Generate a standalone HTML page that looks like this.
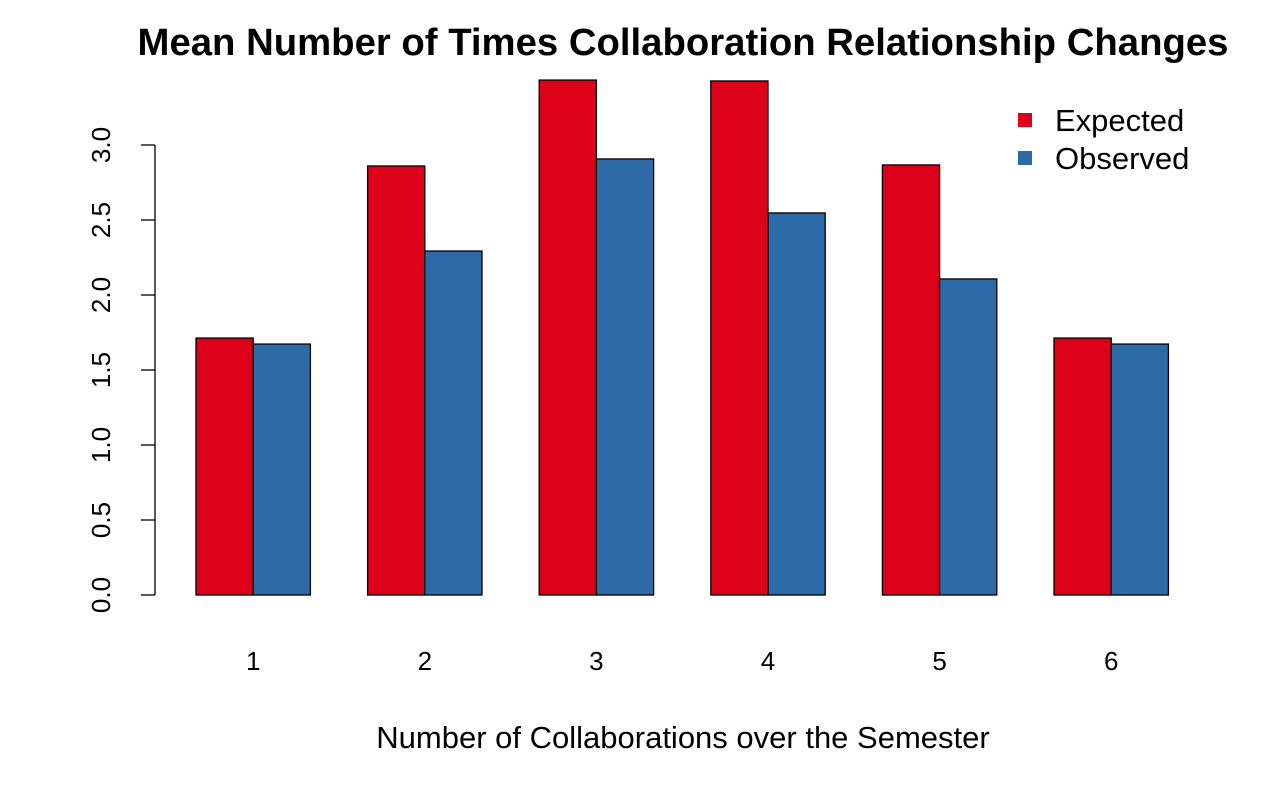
<!DOCTYPE html>
<html><head><meta charset="utf-8"><style>
html,body{margin:0;padding:0;background:#fff;}
svg text{font-family:"Liberation Sans",Arial,sans-serif;fill:#000;}
</style></head><body>
<svg id="chart" width="1288" height="796" viewBox="0 0 1288 796" xmlns="http://www.w3.org/2000/svg">
<text x="683" y="55" font-size="38.3" font-weight="bold" text-anchor="middle">Mean Number of Times Collaboration Relationship Changes</text>
<text x="683" y="748" font-size="31" text-anchor="middle">Number of Collaborations over the Semester</text>
<g id="bars"></g>
<g id="yaxis"></g>
<g id="xlabels"></g>
<g>
<rect x="1018" y="113" width="14" height="14" fill="#DC0018"/>
<text x="1055" y="131" font-size="31">Expected</text>
<rect x="1018" y="151" width="14" height="14" fill="#2D6AA8"/>
<text x="1055" y="169" font-size="31">Observed</text>
</g>
</svg>
<script>
const categories = ["1","2","3","4","5","6"];
const expected = [1.713, 2.86, 3.433, 3.427, 2.867, 1.713];
const observed = [1.673, 2.293, 2.907, 2.547, 2.107, 1.673];
const yTicks = [0, 0.5, 1, 1.5, 2, 2.5, 3];
const yTickLabels = ["0.0","0.5","1.0","1.5","2.0","2.5","3.0"];

const NS = "http://www.w3.org/2000/svg";
const y0 = 595, pxPerUnit = 150;
const yScale = v => y0 - v * pxPerUnit;
const barW = 57.2, groupStart = 196, groupStep = 171.6;
const xScale = (i, s) => groupStart + i * groupStep + s * barW;

const bars = document.getElementById('bars');
function mk(tag, attrs, parent) {
  const el = document.createElementNS(NS, tag);
  for (const k in attrs) el.setAttribute(k, attrs[k]);
  parent.appendChild(el);
  return el;
}
categories.forEach((c, i) => {
  [[expected, "#DC0018", "expected"], [observed, "#2D6AA8", "observed"]].forEach(([arr, col, nm], s) => {
    const v = arr[i];
    const r = mk('rect', {x: xScale(i, s), y: yScale(v), width: barW, height: y0 - yScale(v), fill: col, stroke: "#000", "stroke-width": 1.3}, bars);
    
    
  });
  const t = mk('text', {x: xScale(i, 1), y: 670, "font-size": 26, "text-anchor": "middle"}, document.getElementById('xlabels'));
  t.textContent = c;
  
  
});
const ya = document.getElementById('yaxis');
const axisLine = mk('line', {x1: 155, x2: 155, y1: yScale(yTicks[0]), y2: yScale(yTicks[yTicks.length-1]), stroke: "#000", "stroke-width": 1.3}, ya);


yTicks.forEach((v, i) => {
  const y = yScale(v);
  const tk = mk('line', {x1: 141, x2: 155, y1: y, y2: y, stroke: "#000", "stroke-width": 1.3}, ya);
  
  
  const t = mk('text', {x: 0, y: 0, "font-size": 26, "text-anchor": "middle", transform: `translate(110,${y}) rotate(-90)`}, ya);
  t.textContent = yTickLabels[i];
  
  
});
</script>
</body></html>
